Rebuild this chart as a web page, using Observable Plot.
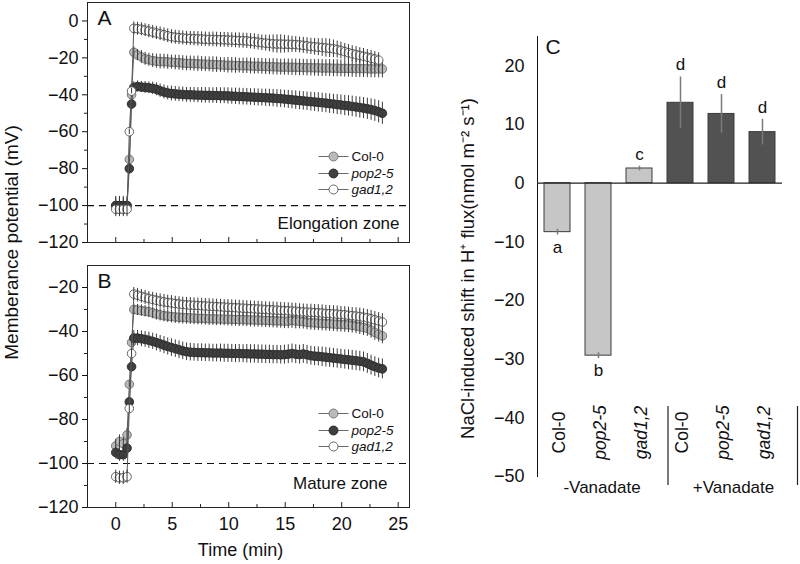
<!DOCTYPE html>
<html><head><meta charset="utf-8">
<script src="https://cdn.jsdelivr.net/npm/d3@7"></script>
<script src="https://cdn.jsdelivr.net/npm/@observablehq/plot@0.6"></script>
<style>
body{margin:0;background:#fff;}
#chart{position:relative;width:800px;height:564px;overflow:hidden;background:#fff;}
#chart svg{position:absolute;left:0;top:0;}
</style></head><body><div id="chart"></div>
<script>
// ---------- data ----------
const genotypes = ["Col-0","pop2-5","gad1,2"];
const time = [0,0.33,0.67,1.0,1.2,1.4,
1.6,1.93,2.27,2.6,2.93,3.27,3.6,3.93,4.27,4.6,4.93,5.27,5.6,5.93,6.27,6.6,6.93,7.27,7.6,7.93,8.27,8.6,8.93,9.27,9.6,9.93,10.27,10.6,10.93,11.27,11.6,11.93,12.27,12.6,12.93,13.27,13.6,13.93,14.27,14.6,14.93,15.27,15.6,15.93,16.27,16.6,16.93,17.27,17.6,17.93,18.27,18.6,18.93,19.27,19.6,19.93,20.27,20.6,20.93,21.27,21.6,21.93,22.27,22.6,22.93,23.27,23.6];

// Panel A - elongation zone (mV)
const elongCol = [-100,-100,-100,-100,-75,-40,
-17,-18.5,-19.5,-20.5,-21,-21.5,-21.8,-22,-22,-22.2,-22.3,-22.5,-22.6,-22.8,-23,-23,-23.1,-23.2,-23.3,-23.4,-23.5,-23.6,-23.7,-23.8,-23.9,-24,-24,-24.1,-24.2,-24.3,-24.3,-24.4,-24.5,-24.5,-24.6,-24.7,-24.8,-24.8,-24.9,-25,-25,-25,-25.1,-25.1,-25.2,-25.2,-25.3,-25.3,-25.4,-25.4,-25.5,-25.5,-25.5,-25.6,-25.6,-25.7,-25.7,-25.7,-25.8,-25.8,-25.8,-25.9,-25.9,-26,-26,-26,-26];
const elongColErr = [4,4,4,4,1.5,1.5,
3,3,3.5,3.5,3.5,3.8,3.8,4,4,4,3.8,4,4,4,4,4,4,4.2,4,4,4,4.2,4.2,4,4,4.2,4.2,4.2,4,4.2,4.2,4.3,4.3,4.2,4.3,4.3,4.3,4.4,4.4,4.3,4.4,4.4,4.4,4.5,4.5,4.4,4.5,4.5,4.5,4.6,4.6,4.5,4.6,4.6,4.6,4.6,4.7,4.7,4.7,4.8,4.8,4.8,4.8,4.8,4.8,4.8,4.8];
const elongPop = [-100,-100,-100,-100,-80,-45,
-36,-35.5,-35.8,-36,-36.2,-36.5,-37,-37.8,-38.5,-39,-39.3,-39.5,-39.7,-39.8,-40,-40,-40.1,-40.2,-40.2,-40.3,-40.3,-40.4,-40.4,-40.5,-40.5,-40.6,-40.7,-40.8,-40.9,-41,-41.1,-41.2,-41.3,-41.4,-41.5,-41.6,-41.7,-41.8,-42,-42.1,-42.3,-42.5,-42.7,-42.9,-43.1,-43.3,-43.5,-43.7,-43.9,-44.1,-44.3,-44.5,-44.8,-45,-45.3,-45.5,-45.8,-46,-46.3,-46.6,-46.9,-47.2,-47.6,-48,-48.5,-49.2,-50];
const elongPopErr = [5,5,5,5,1.5,1.5,
3,3,3,3.2,3.2,3.4,3.5,3.6,3.8,3.8,4,4,4,4,4,4,4.1,4.1,4.2,4.2,4.2,4.2,4.3,4.3,4.3,4.4,4.4,4.4,4.5,4.5,4.5,4.5,4.6,4.6,4.6,4.7,4.7,4.7,4.8,4.8,4.8,4.9,4.9,5,5,5,5,5.1,5.1,5.2,5.2,5.2,5.3,5.3,5.4,5.4,5.5,5.5,5.6,5.6,5.7,5.7,5.8,5.8,5.9,6,6];
const elongGad = [-102,-102,-102,-102,-60,-38,
-4,-4.2,-4.5,-5,-5.5,-6,-6.5,-7,-7.5,-8,-8.5,-8.8,-9,-9.2,-9.4,-9.5,-9.6,-9.7,-9.8,-9.9,-10,-10,-10.1,-10.2,-10.2,-10.3,-10.4,-10.5,-10.6,-10.7,-10.8,-11,-11.2,-11.5,-11.8,-12,-12.2,-12.4,-12.5,-12.5,-12.6,-12.6,-12.7,-12.8,-13,-13.2,-13.5,-13.8,-14,-14.2,-14.4,-14.6,-14.8,-15.1,-15.5,-16,-16.6,-17.2,-17.7,-18.2,-18.7,-19.1,-19.6,-20.1,-20.6,-21.2];
const elongGadErr = [4,4,4,4,1.5,1.5,
3.5,3.5,3.5,3.5,3.6,3.6,3.6,3.7,3.7,3.7,3.8,3.8,3.8,3.8,3.8,3.8,3.9,3.9,3.9,3.9,3.9,4,4,4,4,4,4,4,4.1,4.1,4.1,4.1,4.2,4.2,4.2,4.3,4.5,4.8,5,5,4.8,4.6,4.4,4.3,4.3,4.3,4.4,4.4,4.5,4.6,4.8,5,5,4.8,4.6,4.5,4.4,4.4,4.3,4.3,4.2,4.2,4.1,4.1,4,4,4];

// Panel B - mature zone (mV)
const matureCol = [-92,-90,-91,-87,-64,-45,
-30,-30.2,-30.5,-30.8,-31,-31.5,-32,-32.4,-32.8,-33,-33.2,-33.4,-33.5,-33.6,-33.7,-33.8,-33.9,-34,-34,-34.1,-34.2,-34.2,-34.3,-34.3,-34.4,-34.4,-34.5,-34.5,-34.6,-34.6,-34.7,-34.7,-34.8,-34.8,-34.9,-35,-35,-35.1,-35.2,-35.2,-35.3,-35.3,-35,-35.2,-35.3,-35.5,-35.8,-36,-36.1,-36.2,-36.3,-36.4,-36.5,-36.6,-36.7,-36.8,-36.9,-37,-37.2,-37.5,-37.8,-38.2,-38.6,-39.5,-40.4,-41.2,-42];
const matureColErr = [3,3,3,3,1.5,1.5,
2.5,2.5,2.6,2.6,2.7,2.7,2.8,2.8,2.8,2.9,2.9,2.9,3,3,3,3,3,3,3,3,3,3,3,3,3,3.1,3.1,3.1,3.1,3.1,3.1,3.2,3.2,3.2,3.2,3.2,3.3,3.3,3.3,3.3,3.4,3.4,3.6,3.6,3.5,3.4,3.4,3.4,3.4,3.4,3.4,3.4,3.4,3.4,3.5,3.5,3.5,3.5,3.5,3.5,3.6,3.6,3.6,3.6,3.6,3.6,3.6];
const maturePop = [-95,-96,-96,-93,-72,-56,
-43,-43,-43.3,-43.6,-44,-44.5,-45,-45.6,-46.2,-46.8,-47.3,-47.8,-48.3,-48.8,-49.2,-49.4,-49.5,-49.6,-49.6,-49.7,-49.7,-49.8,-49.8,-49.8,-49.9,-49.9,-50,-50,-50,-50.1,-50.1,-50.2,-50.2,-50.3,-50.3,-50.4,-50.4,-50.5,-50.5,-50.6,-50.5,-50.3,-50,-50.3,-50.5,-50.2,-50.6,-51,-51.2,-51.3,-51.5,-51.7,-51.9,-52.1,-52.3,-52.5,-52.7,-52.9,-53.1,-53.3,-53.5,-53.8,-54.5,-55.3,-56,-56.6,-57];
const maturePopErr = [3,3,3,3,2,2,
3.5,3.5,3.6,3.6,3.7,3.7,3.8,3.8,3.9,3.9,4,4,4,4,4,4,4,4,4,4,4,4,4,4.1,4.1,4.1,4.1,4.1,4.1,4.1,4.2,4.2,4.2,4.2,4.2,4.2,4.2,4.2,4.2,4.2,4.3,4.3,4.3,4.3,4.3,4.3,4.3,4.3,4.3,4.3,4.4,4.4,4.4,4.4,4.4,4.4,4.4,4.5,4.5,4.5,4.5,4.5,4.5,4.5,4.5,4.5,4.5];
const matureGad = [-106,-106.5,-106.5,-106,-75,-50,
-23,-23.5,-24,-24.5,-25,-25.4,-25.8,-26.2,-26.5,-26.8,-27,-27.3,-27.5,-27.7,-27.9,-28,-28.1,-28.2,-28.3,-28.4,-28.5,-28.6,-28.7,-28.8,-28.9,-29,-29.1,-29.2,-29.3,-29.4,-29.5,-29.6,-29.7,-29.8,-29.9,-30,-30.1,-30.2,-30.3,-30.4,-30.5,-30.6,-30.7,-30.8,-31,-31.1,-31.2,-31.3,-31.4,-31.5,-31.6,-31.8,-31.9,-32,-32.1,-32.3,-32.4,-32.6,-32.8,-33,-33.2,-33.5,-33.8,-34.2,-34.7,-35.2,-35.7];
const matureGadErr = [3,3,3,3,2,2,
3,3.1,3.1,3.2,3.2,3.2,3.2,3.3,3.3,3.3,3.3,3.3,3.3,3.3,3.4,3.4,3.4,3.4,3.4,3.4,3.4,3.4,3.4,3.4,3.4,3.5,3.5,3.5,3.5,3.5,3.5,3.5,3.5,3.5,3.5,3.5,3.5,3.6,3.6,3.6,3.6,3.6,3.6,3.6,3.6,3.6,3.6,3.7,3.7,3.7,3.7,3.7,3.7,3.7,3.7,3.7,3.7,3.7,3.7,3.8,3.8,3.8,3.8,3.8,3.8,3.8,3.8];

// Panel C - NaCl-induced shift in H+ flux
const barGroups = ["-Vanadate","-Vanadate","-Vanadate","+Vanadate","+Vanadate","+Vanadate"];
const barGenotypes = ["Col-0","pop2-5","gad1,2","Col-0","pop2-5","gad1,2"];
const fluxShift = [-8.35,-29.4,2.5,13.7,11.8,8.7];
const fluxError = [0.5,0.5,0.4,4.4,3.3,2.2];
const fluxLetters = ["a","b","c","d","d","d"];
const groupLabels = ["-Vanadate","+Vanadate"];

// ticks
const timeTicks = [0,5,10,15,20,25];
const timeMinorTicks = [2.5,7.5,12.5,17.5,22.5];
const elongTicks = [0,-20,-40,-60,-80,-100,-120];
const elongMinorTicks = [-10,-30,-50,-70,-90,-110];
const matureTicks = [-20,-40,-60,-80,-100,-120];
const matureMinorTicks = [-30,-50,-70,-90,-110];
const fluxTicks = [20,10,0,-10,-20,-30,-40,-50];

// ---------- styling ----------
const FONT = "'Liberation Sans', Arial, Helvetica, sans-serif";
const fills = ["#bababa","#3f3f3f","#ffffff"];
const strokes = ["#6e6e6e","#262626","#555555"];
const legendLine = {draw(ctx){ ctx.moveTo(-15,0); ctx.lineTo(15,0); }};
const baseStyle = {background:"transparent", fontFamily: FONT, fontSize:"18px", color:"#111", overflow:"visible"};

function rowsOf(vals, errs, g){
  return time.map((t,i)=>({t, v: vals[i], e: errs[i], g})).filter(d => d.v != null && d.e != null);
}

function timePanel(o){
  const frameH = 564 - o.bottom - o.top;
  const frameW = 409 - 87;
  const marks = [Plot.ruleY([-100], {stroke:"#111", strokeWidth:1.2, strokeDasharray:"7,5"})];
  o.series.forEach((rows,k)=>{
    marks.push(Plot.line(rows, {x:"t", y:"v", stroke:"#5a5a5a", strokeWidth:1}));
    marks.push(Plot.dot(rows, {x:"t", y:"v", r:4.3, fill:fills[k], stroke:strokes[k], strokeWidth:0.9}));
    marks.push(Plot.ruleX(rows, {x:"t", y1:d=>d.v-d.e, y2:d=>d.v+d.e, stroke:"#3a3a3a", strokeWidth:1}));
  });
  marks.push(Plot.frame({stroke:"#222"}));
  marks.push(Plot.ruleY(o.minor, {insetLeft:-3, insetRight:frameW, stroke:"#222"}));
  marks.push(Plot.ruleX(timeTicks, {insetTop:frameH-5, stroke:"#222"}));
  marks.push(Plot.ruleX(timeMinorTicks, {insetTop:frameH-3, stroke:"#222"}));
  marks.push(Plot.text([o.letter], {frameAnchor:"top-left", dx:10, dy:o.letterDy, text:d=>d, fontSize:21, textAnchor:"start", lineAnchor:"middle"}));
  marks.push(Plot.text([o.zone], {frameAnchor:"bottom-right", dx:o.zoneDx, dy:o.zoneDy, text:d=>d, fontSize:17, textAnchor:"end", lineAnchor:"middle"}));
  genotypes.forEach((g,k)=>{
    marks.push(Plot.dot([g], {frameAnchor:"bottom-right", dx:-76, dy:o.legendDy[k], symbol:legendLine, stroke:"#6a6a6a", strokeWidth:1, fill:"none"}));
    marks.push(Plot.dot([g], {frameAnchor:"bottom-right", dx:-76, dy:o.legendDy[k], r:4.5, fill:fills[k], stroke:strokes[k], strokeWidth:0.9}));
    marks.push(Plot.text([g], {frameAnchor:"bottom-right", dx:-58, dy:o.legendDy[k], text:d=>d, textAnchor:"start", lineAnchor:"middle", fontSize:13.5, fontStyle:k ? "italic" : "normal"}));
  });
  if (o.extra) marks.push(...o.extra);
  return Plot.plot({
    width:800, height:564,
    marginLeft:87, marginRight:391, marginTop:o.top, marginBottom:o.bottom,
    style: baseStyle,
    x:{domain:[-2.5,26], ticks:timeTicks, tickSize:0, tickPadding:10, label:null, axis:o.showX ? "bottom" : null},
    y:{domain:o.domain, ticks:o.ticks, tickSize:5, tickPadding:4, label:null},
    marks
  });
}

const chart = document.getElementById("chart");

chart.append(timePanel({
  series:[rowsOf(elongCol,elongColErr,"Col-0"), rowsOf(elongPop,elongPopErr,"pop2-5"), rowsOf(elongGad,elongGadErr,"gad1,2")],
  domain:[-120,10], ticks:elongTicks, minor:elongMinorTicks, top:2, bottom:322,
  letter:"A", letterDy:16, zone:"Elongation zone", zoneDx:-10, zoneDy:-19,
  legendDy:[-86,-69,-53], showX:false,
  extra:[Plot.text(["Memberance potential (mV)"], {frameAnchor:"left", dx:-76, dy:120, rotate:-90, text:d=>d, textAnchor:"middle", lineAnchor:"middle", fontSize:19})]
}));

chart.append(timePanel({
  series:[rowsOf(matureCol,matureColErr,"Col-0"), rowsOf(maturePop,maturePopErr,"pop2-5"), rowsOf(matureGad,matureGadErr,"gad1,2")],
  domain:[-120,-10], ticks:matureTicks, minor:matureMinorTicks, top:265, bottom:57,
  letter:"B", letterDy:16, zone:"Mature zone", zoneDx:-22, zoneDy:-24,
  legendDy:[-94,-77,-61], showX:true,
  extra:[Plot.text(["Time (min)"], {frameAnchor:"bottom", dx:-8, dy:43, text:d=>d, lineAnchor:"middle", fontSize:18})]
}));

const bars = fluxShift.map((v,i)=>({key: barGroups[i]+" "+barGenotypes[i], group: barGroups[i], g: barGenotypes[i], v, e: fluxError[i], L: fluxLetters[i]}));

chart.append(Plot.plot({
  width:800, height:564,
  marginLeft:537, marginRight:18, marginTop:36, marginBottom:88,
  style: baseStyle,
  x:{domain:bars.map(d=>d.key), paddingInner:0.366, paddingOuter:0.17, axis:null},
  y:{domain:[-50,25], ticks:fluxTicks, tickSize:0, tickPadding:13, line:true, label:null},
  color:{domain:groupLabels, range:["#c6c6c6","#525252"]},
  marks:[
    Plot.barY(bars, {x:"key", y:"v", fill:"group", stroke:"#3c3c3c", strokeWidth:1}),
    Plot.ruleX(bars, {x:"key", y1:d=>d.v-d.e, y2:d=>d.v+d.e, stroke:"#7a7a7a", strokeWidth:1.5}),
    Plot.ruleY([0], {stroke:"#222", strokeWidth:1.2}),
    Plot.text(bars.filter(d=>d.v>=0), {x:"key", y:d=>d.v+d.e, text:"L", dy:-12, fontSize:17}),
    Plot.text(bars.filter(d=>d.v<0), {x:"key", y:d=>d.v-d.e, text:"L", dy:12, fontSize:17}),
    Plot.text(bars.filter(d=>d.g==="Col-0"), {x:"key", text:"g", frameAnchor:"bottom", dx:2, dy:-44, rotate:-90, textAnchor:"middle", lineAnchor:"middle", fontSize:17.5}),
    Plot.text(bars.filter(d=>d.g!=="Col-0"), {x:"key", text:"g", frameAnchor:"bottom", dx:2, dy:-44, rotate:-90, textAnchor:"middle", lineAnchor:"middle", fontSize:17.5, fontStyle:"italic"}),
    Plot.ruleX([bars[3].key], {x:d=>d, dx:-12.5, insetTop:370, insetBottom:-9, stroke:"#222", strokeWidth:1.2}),
    Plot.ruleX([bars[5].key], {x:d=>d, dx:35, insetTop:370, insetBottom:-9, stroke:"#222", strokeWidth:1.2}),
    Plot.text([bars[1]], {x:"key", text:"group", frameAnchor:"bottom", dx:3.5, dy:11, lineAnchor:"middle", fontSize:17}),
    Plot.text([bars[4]], {x:"key", text:"group", frameAnchor:"bottom", dx:12, dy:11, lineAnchor:"middle", fontSize:17}),
    Plot.text(["C"], {frameAnchor:"top-left", dx:8, dy:11, text:d=>d, fontSize:21, textAnchor:"start", lineAnchor:"middle"}),
    Plot.text(["NaCl-induced shift in H\u207A flux(nmol m\u207B\u00B2 s\u207B\u00B9)"], {frameAnchor:"left", dx:-69, dy:12, rotate:-90, text:d=>d, textAnchor:"middle", lineAnchor:"middle", fontSize:18.5})
  ]
}));
</script></body></html>
